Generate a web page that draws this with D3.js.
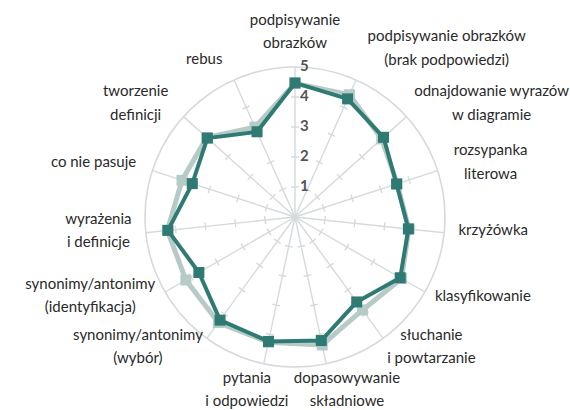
<!DOCTYPE html>
<html>
<head>
<meta charset="utf-8">
<script src="https://cdn.jsdelivr.net/npm/d3@7"></script>
<style>
  body { margin: 0; background: #fff; }
  svg text { font-family: Lato, "Open Sans", sans-serif; }
</style>
</head>
<body>
<div class="chart"></div>
<script>
// categories (clockwise from the top), "\n" splits label lines
const categories = [
    "podpisywanie\nobrazków",
    "podpisywanie obrazków\n(brak podpowiedzi)",
    "odnajdowanie wyrazów\nw diagramie",
    "rozsypanka\nliterowa",
    "krzyżówka",
    "klasyfikowanie",
    "słuchanie\ni powtarzanie",
    "dopasowywanie\nskładniowe",
    "pytania\ni odpowiedzi",
    "synonimy/antonimy\n(wybór)",
    "synonimy/antonimy\n(identyfikacja)",
    "wyrażenia\ni definicje",
    "co nie pasuje",
    "tworzenie\ndefinicji",
    "rebus"
];
const seriesLight = [4.45, 4.46, 3.89, 3.58, 3.82, 4.1, 3.83, 4.36, 4.27, 4.35, 4.2, 4.28, 3.96, 3.96, 3.28];
const seriesDark = [4.47, 4.31, 3.97, 3.56, 3.8, 4.05, 3.5, 4.21, 4.24, 4.25, 3.7, 4.26, 3.6, 3.93, 3.11];
const tickValues = [1, 2, 3, 4, 5];

const width = 570, height = 410;
const cx = 295, cy = 217;
const n = categories.length;

const rScale = d3.scaleLinear().domain([0, 5]).range([0, 150]);
const aScale = d3.scaleLinear().domain([0, n]).range([0, 2 * Math.PI]);

const svg = d3.select('.chart').append('svg')
    .attr('width', width)
    .attr('height', height);

const g = svg.append('g')
    .attr('transform', `translate(${cx},${cy})`);

const px = (i, r) => r * Math.sin(aScale(i));
const py = (i, r) => -r * Math.cos(aScale(i));

// grid: spokes, ticks, outer circle
const gridColor = '#d6dadd';
g.selectAll('.spoke')
    .data(categories)
    .enter()
    .append('line')
    .attr('x1', 0).attr('y1', 0)
    .attr('x2', (d, i) => px(i, rScale(5)))
    .attr('y2', (d, i) => py(i, rScale(5)))
    .attr('stroke', gridColor)
    .attr('stroke-width', 1.4);

const tickData = [];
categories.forEach((c, i) => tickValues.slice(0, 4).forEach(t => tickData.push({i, t})));
g.selectAll('.tick')
    .data(tickData)
    .enter()
    .append('line')
    .attr('transform', d => `rotate(${aScale(d.i) * 180 / Math.PI}) translate(0,${-rScale(d.t)})`)
    .attr('x1', -4).attr('x2', 4)
    .attr('stroke', gridColor)
    .attr('stroke-width', 1.4);

g.append('circle')
    .attr('r', rScale(5))
    .attr('fill', 'none')
    .attr('stroke', gridColor)
    .attr('stroke-width', 1.6);

// series
const line = d3.lineRadial()
    .angle((d, i) => aScale(i))
    .radius(d => rScale(d))
    .curve(d3.curveLinearClosed);

function drawSeries(values, color, lw) {
    g.append('path')
        .datum(values)
        .attr('d', line)
        .attr('fill', 'none')
        .attr('stroke', color)
        .attr('stroke-width', lw)
        .attr('stroke-linejoin', 'round');
    g.selectAll(null)
        .data(values)
        .enter()
        .append('rect')
        .attr('x', (d, i) => px(i, rScale(d)) - 5.5)
        .attr('y', (d, i) => py(i, rScale(d)) - 5.5)
        .attr('width', 11)
        .attr('height', 11)
        .attr('fill', color);
}
drawSeries(seriesLight, '#b6cac8', 5);
drawSeries(seriesDark, '#2f7a73', 4);

// value labels along the top axis
g.selectAll('.value')
    .data(tickValues)
    .enter()
    .append('text')
    .attr('x', 5)
    .attr('y', d => -rScale(d) - 1)
    .attr('dy', '0.35em')
    .attr('fill', '#555')
    .attr('font-weight', 'bold')
    .style('font-size', '15px')
    .text(d => d);

// category labels
const L = 165, lineH = 23.5;
const labels = g.selectAll('.label')
    .data(categories)
    .enter()
    .append('text')
    .attr('fill', '#2a2a2a')
    .style('font-size', '15px')
    .attr('text-anchor', 'middle');

labels.each(function(d, i) {
    const t = d3.select(this);
    const lines = d.split('\n');
    lines.forEach((s, k) => t.append('tspan').attr('x', 0).attr('y', k * lineH).text(s));
    const w = d3.max(t.selectAll('tspan').nodes(), nd => nd.getComputedTextLength());
    const h = lines.length * lineH;
    const a = aScale(i), s = Math.sin(a), c = Math.cos(a);
    const x0 = px(i, L), y0 = py(i, L);
    let bx, by;
    if (Math.abs(s) > 0.3) bx = x0 + Math.sign(s) * (w / 2 + 6 * c);
    else bx = x0 + s * w * 0.8;
    if (c > 0.9) by = y0 - c * h / 2 + 3;
    else if (c < -0.9) by = y0 + 0.3 * h - 3;
    else by = y0 - 4;
    // keep the block inside the picture
    bx = Math.min(bx, width - cx - w / 2 - 1);
    bx = Math.max(bx, -cx + w / 2 + 1);
    t.attr('transform', `translate(${bx},${by - h / 2 + lineH * 0.72})`);
});
</script>
</body>
</html>
